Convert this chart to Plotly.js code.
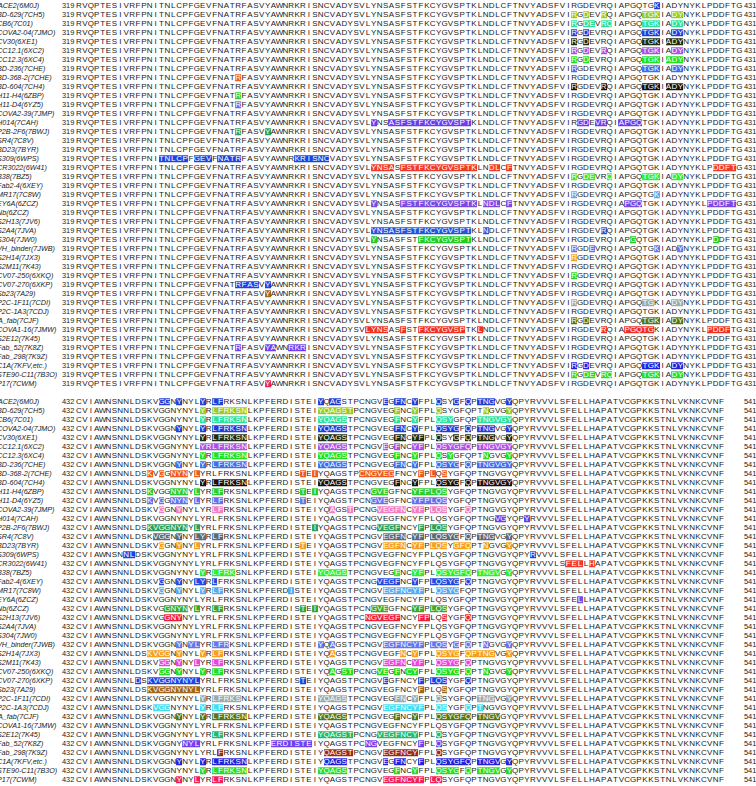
<!DOCTYPE html>
<html>
<head>
<meta charset="utf-8">
<script src="https://cdn.plot.ly/plotly-3.0.1.min.js"></script>
<style>
  html, body { margin: 0; padding: 0; background: #fff; }
  #chart { width: 756px; height: 786px; }
</style>
</head>
<body>
<div id="chart"></div>
<script>
// RBD sequence, two blocks
const seqTop = 'RVQPTESIVRFPNITNLCPFGEVFNATRFASVYAWNRKRISNCVADYSVLYNSASFSTFKCYGVSPTKLNDLCFTNVYADSFVIRGDEVRQIAPGQTGKIADYNYKLPDDFTG';
const seqBottom = 'CVIAWNSNNLDSKVGGNYNYLYRLFRKSNLKPFERDISTEIYQAGSTPCNGVEGFNCYFPLQSYGFQPTNGVGYQPYRVVVLSFELLHAPATVCGPKKSTNLVKNKCVNF';
const startTop = 319, endTop = 431;
const startBottom = 432, endBottom = 541;

const labels = [
  'ACE2(6M0J)', 'BD-629(7CH5)', 'CB6(7C01)', 'COVA2-04(7JMO)', 'CV30(6XE1)', 'CC12.1(6XC2)',
  'CC12.3(6XC4)', 'BD-236(7CHE)', 'BD-368-2(7CHE)', 'BD-604(7CH4)', 'H11-H4(6ZBP)', 'H11-D4(6YZ5)',
  'COVA2-39(7JMP)', 'H014(7CAH)', 'P2B-2F6(7BWJ)', 'SR4(7C8V)', 'BD23(7BYR)', 'S309(6WPS)',
  'CR3022(6W41)', 'B38(7BZ5)', 'Fab2-4(6XEY)', 'MR17(7C8W)', 'EY6A(6ZCZ)', 'Nb(6ZCZ)',
  'S2H13(7JV6)', 'S2A4(7JVA)', 'S304(7JW0)', 'VH_binder(7JWB)', 'S2H14(7JX3)', 'S2M11(7K43)',
  'CV07-250(6XKQ)', 'CV07-270(6XKP)', 'Sb23(7A29)', 'P2C-1F11(7CDI)', 'P2C-1A3(7CDJ)', 'A_fab(7CJF)',
  'COVA1-16(7JMW)', 'S2E12(7K45)', 'Fab_52(7K8Z)', 'Fab_298(7K9Z)', 'C1A(7KFV,etc.)', 'STE90-C11(7B3O)',
  'P17(7CWM)'
];

const rowColors = [
  '#1f3fd6', '#99cc22', '#30e0a0', '#1e3de0', '#1f2a0f', '#b14ee8',
  '#22e022', '#3a6ff0', '#f05a1e', '#1c0f08', '#2fcc2f', '#6670ee',
  '#f080c0', '#6a3cf0', '#2e9e5a', '#5a6a78', '#f5a020', '#1a44e8',
  '#f03a28', '#2cf02c', '#2448e0', '#5aaaf0', '#7a4ae0', '#3aaa22',
  '#f0203c', '#2255dd', '#22cc22', '#6677ee', '#f5a020', '#f040e0',
  '#22dd22', '#1a44e8', '#a0661a', '#9aabab', '#44ddf0', '#557711',
  '#f03020', '#22bb66', '#7040f0', '#a02a10', '#2222dd', '#22e022',
  '#f0205a'
];

// contact residues per row, block 319-431
const topSites = [
  [417],
  [403, 405, 408, 415, 416, 417, 420, 421],
  [403, 405, 406, 408, 409, 415, 416, 417, 420, 421],
  [403, 405, 415, 416, 417, 420, 421],
  [403, 405, 415, 416, 417, 419, 420, 421],
  [403, 405, 408, 415, 416, 417, 420, 421],
  [403, 405, 415, 416, 417, 419, 420, 421],
  [403, 415, 416, 417, 420, 421],
  [346],
  [403, 408, 415, 416, 417, 419, 420, 421],
  [346],
  [346],
  [],
  [369, 372, 373, 374, 375, 376, 377, 378, 379, 380, 381, 382, 383, 384, 385, 404, 405, 407, 408, 411, 412, 413, 414],
  [346, 351],
  [],
  [],
  [333, 334, 335, 336, 337, 339, 340, 341, 343, 344, 345, 346, 356, 357, 358, 359, 360, 361],
  [369, 370, 371, 372, 374, 375, 376, 377, 378, 379, 380, 381, 382, 383, 384, 385, 386, 389, 390, 392, 427, 428, 429, 430],
  [403, 405, 406, 409, 415, 416, 417, 420, 421],
  [],
  [403, 417],
  [369, 374, 375, 376, 377, 378, 379, 380, 381, 382, 383, 384, 385, 386, 388, 389, 390, 392, 412, 413, 414, 426, 427, 428, 429, 430],
  [],
  [],
  [369, 370, 371, 372, 373, 374, 375, 376, 377, 378, 379, 380, 381, 382, 383, 384, 385, 388, 408],
  [369, 377, 378, 379, 380, 381, 382, 383, 384, 385, 413, 427],
  [403, 406, 417, 421],
  [403],
  [],
  [403],
  [346, 347, 348, 349, 351],
  [351],
  [403, 415, 416, 420, 421],
  [],
  [403, 405, 415, 416, 417, 420, 421],
  [368, 369, 370, 371, 374, 377, 378, 379, 380, 381, 382, 383, 384, 387, 408, 412, 413, 414, 415, 416, 426, 427, 428, 429],
  [],
  [346, 351, 352, 355, 356, 357],
  [],
  [403, 405, 415, 416, 417, 420, 421],
  [403, 405, 406, 408, 409, 415, 416, 417, 420, 421],
  [351]
];

// contact residues per row, block 432-541
const bottomSites = [
  [446, 447, 449, 453, 455, 456, 473, 475, 476, 484, 486, 487, 489, 493, 496, 498, 500, 501, 502, 505],
  [453, 455, 456, 457, 458, 459, 460, 473, 474, 475, 476, 477, 478, 486, 489, 493, 501, 505],
  [453, 455, 456, 457, 458, 459, 460, 473, 474, 475, 476, 477, 486, 489, 493, 494, 495, 500, 501, 502, 503, 504, 505],
  [449, 453, 455, 456, 457, 458, 459, 460, 473, 474, 475, 476, 477, 486, 487, 489, 493, 494, 495, 496, 498, 500, 501, 502, 505],
  [453, 455, 456, 457, 458, 459, 460, 473, 474, 475, 476, 477, 486, 487, 489, 490, 493, 496, 498, 500, 501, 502, 505],
  [453, 454, 455, 456, 457, 458, 459, 460, 473, 474, 475, 476, 477, 484, 486, 489, 490, 493, 494, 495, 496, 497, 498, 500, 501, 502, 503, 504, 505],
  [453, 455, 456, 457, 458, 459, 460, 473, 474, 475, 476, 477, 486, 489, 493, 495, 501, 505],
  [449, 453, 455, 456, 457, 458, 459, 460, 473, 474, 475, 476, 477, 486, 487, 489, 493, 494, 495, 496, 498, 500, 501, 502, 503, 504, 505],
  [444, 446, 448, 449, 450, 452, 470, 472, 480, 481, 482, 483, 484, 485, 490, 492, 494],
  [453, 455, 456, 457, 458, 459, 460, 473, 474, 475, 476, 477, 486, 489, 493, 494, 495, 496, 498, 500, 501, 502, 503, 504, 505],
  [444, 448, 449, 450, 452, 455, 456, 470, 472, 482, 483, 484, 489, 490, 491, 492, 493, 494],
  [444, 446, 448, 449, 450, 452, 455, 456, 470, 482, 483, 484, 489, 490, 491, 492, 493, 494],
  [446, 449, 455, 456, 475, 478, 483, 484, 485, 486, 487, 489, 490, 492, 493, 494, 498],
  [503, 504, 508],
  [444, 445, 446, 447, 448, 449, 450, 452, 472, 483, 484, 485, 486, 490, 492, 493, 494],
  [445, 446, 447, 449, 452, 453, 455, 456, 484, 485, 486, 487, 489, 490, 492, 493, 494, 495, 496, 498, 500, 501, 502, 505],
  [446, 449, 452, 470, 484, 485, 486, 487, 489, 490, 492, 493, 494, 496, 497, 498, 501, 505],
  [440, 441, 509],
  [515, 516, 517, 519],
  [453, 455, 456, 457, 458, 473, 474, 475, 476, 477, 486, 489, 490, 493, 494, 495, 496, 497, 498, 500, 501, 502, 503, 505],
  [446, 449, 452, 453, 455, 483, 484, 485, 486, 489, 492, 493, 494, 495, 496, 498],
  [446, 449, 453, 455, 456, 468, 484, 485, 486, 487, 488, 489, 490, 493, 494, 495, 496],
  [517],
  [447, 448, 449, 450, 452, 455, 456, 470, 472, 482, 483, 484, 489, 490, 492, 493, 494],
  [447, 448, 449, 481, 482, 483, 484, 485, 486, 490, 491, 494, 498],
  [],
  [],
  [449, 451, 452, 455, 456, 457, 473, 475, 484, 485, 486, 487, 488, 489, 490, 492, 493, 494, 496, 498, 501, 505],
  [444, 445, 446, 447, 449, 453, 455, 456, 475, 487, 489, 493, 494, 495, 496, 498, 499, 500, 501, 502, 505],
  [446, 447, 449, 452, 455, 456, 484, 485, 486, 487, 489, 490, 493, 494, 495, 496, 498],
  [446, 447, 449, 453, 455, 456, 475, 477, 478, 483, 484, 486, 488, 489, 493, 494, 495, 496, 498, 501, 505],
  [442, 444, 445, 446, 447, 448, 449, 450, 451, 452, 470, 484, 490, 492, 493, 494, 498],
  [444, 445, 446, 447, 448, 449, 450, 451, 452, 490, 494],
  [453, 455, 456, 457, 458, 459, 473, 474, 475, 476, 477, 486, 487, 489, 493, 500, 501, 502, 505],
  [445, 446, 447, 453, 455, 456, 484, 485, 486, 487, 488, 489, 490, 493, 494, 498, 500],
  [449, 453, 455, 456, 457, 458, 459, 460, 473, 474, 475, 476, 477, 486, 489, 493, 494, 495, 496, 497, 498, 500, 501, 502, 503],
  [],
  [455, 456, 473, 474, 475, 476, 477, 478, 483, 484, 485, 486, 487, 488, 489, 493],
  [450, 451, 452, 465, 466, 467, 468, 469, 470, 471, 481, 482, 490, 493],
  [456, 474, 475, 476, 477, 478, 484, 485, 486, 487, 488, 489, 493],
  [449, 453, 455, 456, 457, 458, 459, 460, 474, 475, 476, 477, 484, 486, 487, 490, 493, 494, 495, 496, 497, 498, 500, 501, 502, 503, 505],
  [453, 455, 456, 457, 458, 459, 460, 473, 474, 475, 476, 477, 486, 489, 493, 494, 495, 496, 498, 500, 501, 502, 503, 505],
  [449, 452, 455, 456, 484, 485, 486, 487, 488, 489, 490, 492, 493]
];

const FONT = '"Liberation Sans", Arial, Helvetica, sans-serif';
const BLOCK2 = 44; // row offset of the second block

const colorscale = rowColors.map((c, i) => [i / (rowColors.length - 1), c]);
const dark = { x: [], y: [], text: [] };
const light = { x: [], y: [], text: [] };
const traces = [];
const annotations = [];

function addBlock(seq, start, end, sites, y0) {
  const letters = seq.split('');
  const z = labels.map((_, r) =>
    letters.map((_, c) => (sites[r].includes(start + c) ? r : null)));

  traces.push({
    type: 'heatmap',
    x: letters.map((_, c) => c),
    y: labels.map((_, r) => r + y0),
    z: z,
    zmin: 0,
    zmax: rowColors.length - 1,
    colorscale: colorscale,
    showscale: false,
    ygap: 2,
    hoverinfo: 'skip'
  });

  labels.forEach((name, r) => {
    letters.forEach((ch, c) => {
      const t = z[r][c] === null ? dark : light;
      t.x.push(c);
      t.y.push(r + y0);
      t.text.push(ch);
    });
    annotations.push({
      xref: 'paper', yref: 'y', x: -3 / 756, y: r + y0,
      xanchor: 'left', yanchor: 'middle', showarrow: false,
      text: '<i>' + name + '</i>', borderpad: 0, borderwidth: 0,
      font: { family: FONT, size: 7.2, color: '#1a1a1a' }
    });
    annotations.push({
      x: -0.93, y: r + y0, xanchor: 'right', yanchor: 'middle', showarrow: false,
      text: String(start), borderpad: 0, borderwidth: 0,
      font: { family: FONT, size: 7.4, color: '#1a1a1a' }
    });
    annotations.push({
      x: 112.75, y: r + y0, xanchor: 'left', yanchor: 'middle', showarrow: false,
      text: String(end), borderpad: 0, borderwidth: 0,
      font: { family: FONT, size: 7.4, color: '#1a1a1a' }
    });
  });
}

addBlock(seqTop, startTop, endTop, topSites, 0);
addBlock(seqBottom, startBottom, endBottom, bottomSites, BLOCK2);

[[dark, '#1a1a1a'], [light, '#ffffff']].forEach(([t, col]) => {
  traces.push({
    type: 'scatter',
    mode: 'text',
    x: t.x,
    y: t.y,
    text: t.text,
    textposition: 'middle center',
    textfont: { family: FONT, size: 8, color: col },
    cliponaxis: false,
    hoverinfo: 'skip'
  });
});

Plotly.newPlot('chart', traces, {
  width: 756,
  height: 786,
  margin: { l: 0, r: 0, t: 0, b: 0 },
  showlegend: false,
  paper_bgcolor: '#fff',
  plot_bgcolor: '#fff',
  xaxis: { range: [-13.40, 114.84], visible: false, fixedrange: true },
  yaxis: { range: [86.7, -0.633], visible: false, fixedrange: true },
  annotations: annotations
}, { displayModeBar: false, staticPlot: true });
</script>
</body>
</html>
